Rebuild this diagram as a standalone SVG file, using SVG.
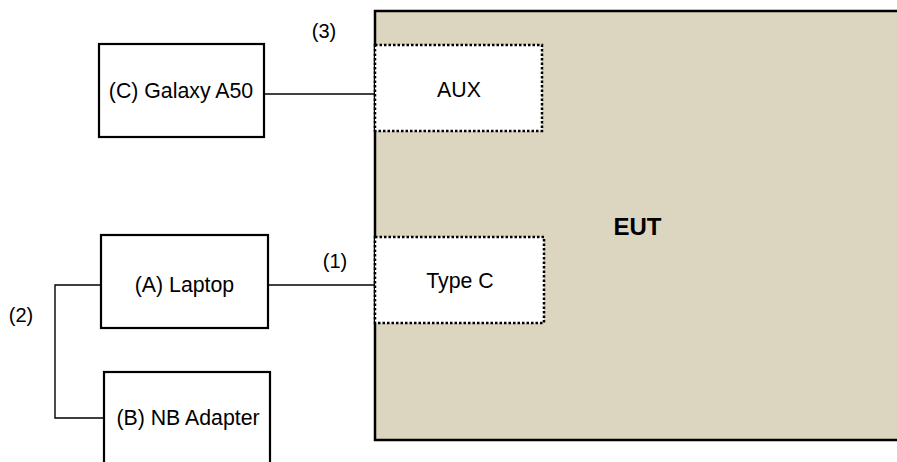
<svg xmlns="http://www.w3.org/2000/svg" width="897" height="462" viewBox="0 0 897 462">
<style>
text{font-family:"Liberation Sans",Arial,sans-serif;font-size:21.3px;fill:#000;text-anchor:middle}
.lbl{font-size:20px}
.box{fill:#fff;stroke:#000;stroke-width:2.2}
.port{fill:#fff;stroke:#000;stroke-width:2.5;stroke-dasharray:2.5 2}
.eut{fill:#DCD6C1;stroke:#000;stroke-width:2.5}
.wire{fill:none;stroke:#000;stroke-width:1.4}
</style>
<rect width="897" height="462" fill="#fff"/>
<g id="eut">
<rect class="eut" x="375" y="11" width="530" height="429"/>
<text x="637.5" y="235" style="font-size:24px;font-weight:bold">EUT</text>
</g>
<g id="aux">
<rect class="port" x="375" y="45" width="167" height="86"/>
<text x="459" y="97">AUX</text>
</g>
<g id="typec">
<rect class="port" x="375" y="237" width="169" height="86"/>
<text x="460" y="288">Type C</text>
</g>
<g id="galaxy">
<rect class="box" x="99" y="44" width="165" height="93"/>
<text x="181" y="98">(C) Galaxy A50</text>
</g>
<g id="laptop">
<rect class="box" x="101" y="235" width="167" height="93"/>
<text x="184.5" y="292">(A) Laptop</text>
</g>
<g id="adapter">
<rect class="box" x="104" y="372" width="166" height="110"/>
<text x="188" y="425">(B) NB Adapter</text>
</g>
<g id="connectors">
<line class="wire" x1="264" y1="94" x2="375" y2="94"/>
<line class="wire" x1="268" y1="285" x2="375" y2="285"/>
<polyline class="wire" points="101,285 55,285 55,418 104,418"/>
</g>
<g id="labels">
<text class="lbl" x="324" y="38">(3)</text>
<text class="lbl" x="335" y="268">(1)</text>
<text class="lbl" x="21" y="322">(2)</text>
</g>
</svg>
